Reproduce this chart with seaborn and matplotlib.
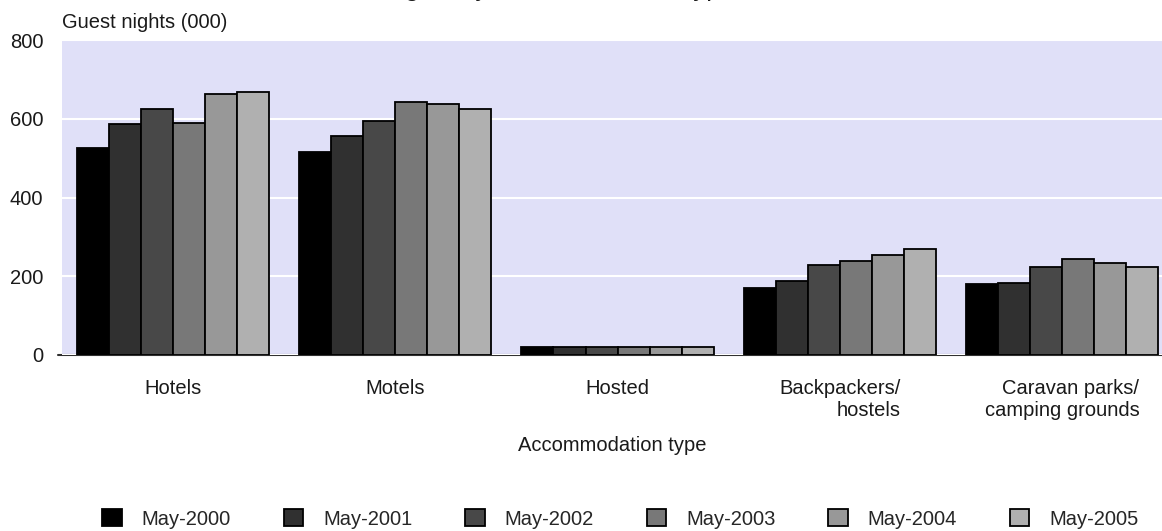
import pandas as pd
import matplotlib
matplotlib.use("Agg")
import matplotlib.pyplot as plt
import seaborn as sns

# Data (guest nights, thousands)
categories = ["Hotels", "Motels", "Hosted", "Backpackers/\nhostels", "Caravan parks/\ncamping grounds"]
months = ["May-2000", "May-2001", "May-2002", "May-2003", "May-2004", "May-2005"]
hotels = [525, 586, 626, 590, 662, 667]
motels = [515, 555, 595, 642, 637, 626]
hosted = [21, 20, 20, 20, 20, 20]
backpackers = [169, 188, 229, 239, 255, 269]
caravan = [180, 183, 224, 244, 234, 223]
y_ticks = [0, 200, 400, 600, 800]

bar_colors = ["#000000", "#303030", "#484848", "#787878", "#989898", "#b0b0b0"]
bg_color = "#e0e0f8"
txt = "#1a1a1a"
fs = 14.5

rows = []
for cat, vals in zip(categories, [hotels, motels, hosted, backpackers, caravan]):
    for m, v in zip(months, vals):
        rows.append({"type": cat, "month": m, "nights": v})
df = pd.DataFrame(rows)

sns.set_theme(style="white")
plt.rcParams["font.family"] = ["Liberation Sans", "DejaVu Sans"]
plt.rcParams["font.size"] = fs

fig = plt.figure(figsize=(11.62, 5.31), dpi=100)
ax = fig.add_axes([62 / 1162, 1 - 355 / 531, 1100 / 1162, 315 / 531])
ax.set_facecolor(bg_color)

sns.barplot(data=df, x="type", y="nights", hue="month", palette=bar_colors,
            saturation=1, edgecolor="black", linewidth=1.3, width=0.865,
            gap=0, ax=ax)

ax.set_xlim(-0.5, 4.45)
ax.set_ylim(0, 800)
ax.set_yticks(y_ticks)
ax.yaxis.grid(True, color="white", linewidth=1.5)
ax.set_axisbelow(True)
for s in ax.spines.values():
    s.set_visible(False)
# zero line, sticking out a little to the left of the plot area
ax.plot([-0.52, 4.45], [0, 0], color="#303030", linewidth=1.5, zorder=0.5,
        clip_on=False)
ax.tick_params(axis="both", length=0, colors=txt, labelsize=fs)
ax.tick_params(axis="x", pad=17)
ax.tick_params(axis="y", pad=13.5)

ax.set_xticks(range(len(categories)))
ax.set_xticklabels(categories, multialignment="right", linespacing=1.25)

ax.set_xlabel("Accommodation type", fontsize=fs, color=txt, labelpad=11.5)
ax.set_ylabel("")
fig.text(62 / 1162, 1 - 23 / 531, "Guest nights (000)", ha="left", va="center",
         fontsize=fs, color=txt)

# title mostly cut off at the top edge, as in the reference
fig.text(309 / 1162, 1.0 + 3.8 / 531, "Guest nights by accommodation type", ha="left",
         va="baseline", fontsize=18.6, color=txt)

sns.move_legend(ax, "center", bbox_to_anchor=(0.534, 1 - 519 / 531),
                bbox_transform=fig.transFigure, ncol=6, frameon=False,
                title=None, fontsize=fs, handlelength=0.95, handleheight=0.85,
                handletextpad=1.0, columnspacing=2.63)

fig.savefig("out.png", dpi=100)
